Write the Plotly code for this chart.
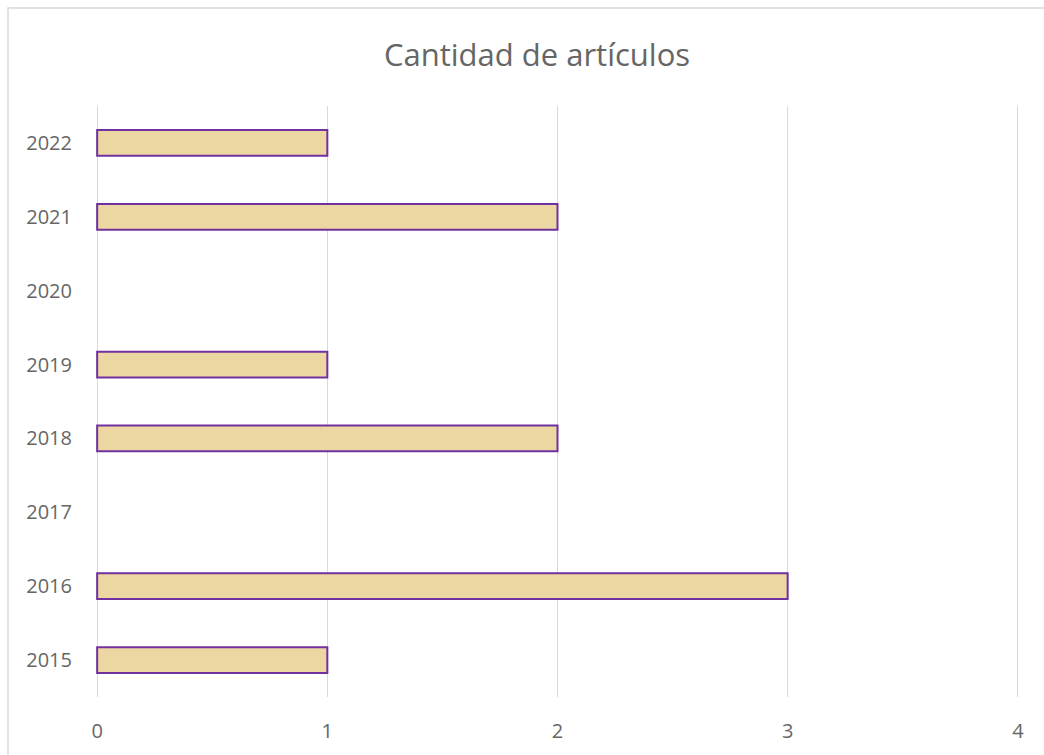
import plotly.graph_objects as go

years = ["2015", "2016", "2017", "2018", "2019", "2020", "2021", "2022"]
articles = [1, 3, 0, 2, 1, 0, 2, 1]
x_ticks = [0, 1, 2, 3, 4]
title_text = "Cantidad de artículos"

plot_vals = [v if v != 0 else None for v in articles]

FONT = "Open Sans, Lato, sans-serif"
TXT = "#666666"

fig = go.Figure()
fig.add_trace(go.Bar(
    y=years, x=plot_vals, orientation="h", width=0.35,
    marker=dict(color="#ECD6A2", line=dict(color="#7030A0", width=2)),
))

fig.update_layout(
    width=1044, height=755,
    paper_bgcolor="white", plot_bgcolor="white",
    margin=dict(l=96, r=25, t=106, b=58),
    title=dict(text=title_text, x=537/1044, xanchor="center", y=1 - 55/755, yanchor="middle",
               font=dict(family=FONT, size=31, color=TXT)),
    font=dict(family=FONT, size=20, color=TXT),
    showlegend=False,
    xaxis=dict(range=[-0.005, 4.005], tickvals=x_ticks, showgrid=True, gridcolor="#D9D9D9", gridwidth=1,
               zeroline=False, showline=False, ticks="", ticklabelstandoff=20,
               tickfont=dict(size=20, color=TXT)),
    yaxis=dict(type="category", categoryorder="array", categoryarray=years, range=[-0.5, 7.5],
               showgrid=False, zeroline=False, showline=False, ticks="", ticklabelstandoff=23,
               tickfont=dict(size=20, color=TXT)),
    shapes=[dict(type="rect", xref="paper", yref="paper", x0=-88/923, x1=1.1, y0=-0.2,
                 y1=1 + 98/591, line=dict(color="#D9D9D9", width=1.5), fillcolor="rgba(0,0,0,0)",
                 layer="below")],
)

fig.write_html("out.html", config={"displayModeBar": False},
               post_script="document.body.style.margin='0';document.body.style.overflow='hidden';")
